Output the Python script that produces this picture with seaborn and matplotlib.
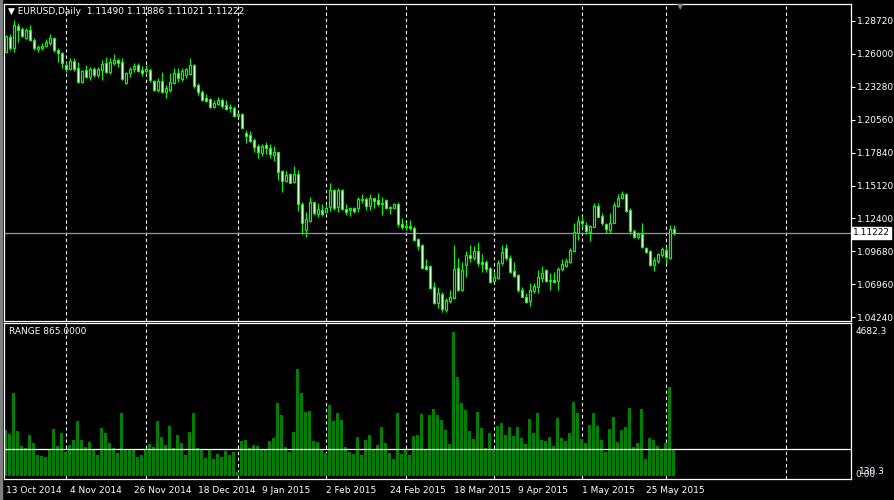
import pandas as pd
import matplotlib
matplotlib.use("Agg")
import matplotlib.pyplot as plt
import matplotlib.transforms as mtransforms
from matplotlib.patches import Rectangle
import seaborn as sns

# EURUSD daily, 13 Oct 2014 .. 3 Jun 2015 (one bar per weekday)
opens = [1.2616, 1.2740, 1.2649, 1.2828, 1.2803, 1.2732, 1.2795, 1.2713, 1.2638, 1.2644,
         1.2666, 1.2685, 1.2727, 1.2630, 1.2603, 1.2507, 1.2474, 1.2540, 1.2479, 1.2369,
         1.2465, 1.2410, 1.2474, 1.2424, 1.2465, 1.2520, 1.2446, 1.2520, 1.2548, 1.2529,
         1.2360, 1.2438, 1.2471, 1.2507, 1.2465, 1.2457, 1.2465, 1.2377, 1.2300, 1.2377,
         1.2281, 1.2300, 1.2355, 1.2438, 1.2391, 1.2424, 1.2430, 1.2507, 1.2341, 1.2281,
         1.2232, 1.2225, 1.2162, 1.2182, 1.2218, 1.2176, 1.2149, 1.2154, 1.2088, 1.2102,
         1.1948, 1.1928, 1.1888, 1.1840, 1.1778, 1.1846, 1.1824, 1.1764, 1.1786, 1.1632,
         1.1549, 1.1604, 1.1544, 1.1607, 1.1359, 1.1145, 1.1220, 1.1374, 1.1277, 1.1310,
         1.1296, 1.1332, 1.1475, 1.1337, 1.1475, 1.1318, 1.1310, 1.1329, 1.1329, 1.1401,
         1.1401, 1.1346, 1.1406, 1.1393, 1.1357, 1.1393, 1.1329, 1.1329, 1.1357, 1.1192,
         1.1172, 1.1180, 1.1164, 1.1068, 1.1021, 1.0848, 1.0848, 1.0672, 1.0540, 1.0614,
         1.0485, 1.0559, 1.0586, 1.0829, 1.0650, 1.0856, 1.0939, 1.0911, 1.0972, 1.0878,
         1.0883, 1.0829, 1.0724, 1.0751, 1.0875, 1.0994, 1.0911, 1.0809, 1.0773, 1.0650,
         1.0590, 1.0561, 1.0644, 1.0672, 1.0746, 1.0815, 1.0727, 1.0732, 1.0727, 1.0820,
         1.0848, 1.0884, 1.0974, 1.1118, 1.1222, 1.1186, 1.1131, 1.1172, 1.1343, 1.1260,
         1.1194, 1.1145, 1.1205, 1.1343, 1.1406, 1.1442, 1.1310, 1.1139, 1.1085, 1.1112,
         1.0994, 1.0974, 1.0856, 1.0892, 1.0939, 1.0980, 1.0911, 1.11490]
highs = [1.2754, 1.2760, 1.2878, 1.2851, 1.2822, 1.2809, 1.2837, 1.2727, 1.2671, 1.2685,
         1.2721, 1.2760, 1.2740, 1.2644, 1.2611, 1.2534, 1.2567, 1.2562, 1.2529, 1.2465,
         1.2507, 1.2493, 1.2493, 1.2493, 1.2548, 1.2575, 1.2562, 1.2595, 1.2567, 1.2562,
         1.2451, 1.2493, 1.2520, 1.2520, 1.2501, 1.2507, 1.2479, 1.2383, 1.2397, 1.2446,
         1.2341, 1.2438, 1.2484, 1.2484, 1.2479, 1.2479, 1.2562, 1.2512, 1.2355, 1.2300,
         1.2265, 1.2237, 1.2218, 1.2245, 1.2232, 1.2218, 1.2182, 1.2171, 1.2108, 1.2108,
         1.1970, 1.1962, 1.1902, 1.1852, 1.1852, 1.1869, 1.1852, 1.1840, 1.1791, 1.1640,
         1.1632, 1.1613, 1.1676, 1.1640, 1.1379, 1.1291, 1.1420, 1.1379, 1.1365, 1.1357,
         1.1351, 1.1530, 1.1483, 1.1489, 1.1483, 1.1357, 1.1337, 1.1337, 1.1420, 1.1440,
         1.1420, 1.1440, 1.1412, 1.1448, 1.1420, 1.1401, 1.1346, 1.1365, 1.1374, 1.1241,
         1.1213, 1.1228, 1.1180, 1.1076, 1.1027, 1.0905, 1.0856, 1.0718, 1.0677, 1.0631,
         1.0586, 1.0650, 1.1021, 1.0916, 1.0878, 1.0972, 1.1021, 1.1015, 1.1048, 1.0944,
         1.0898, 1.0842, 1.0801, 1.0898, 1.1021, 1.1029, 1.0939, 1.0883, 1.0782, 1.0677,
         1.0622, 1.0705, 1.0705, 1.0815, 1.0848, 1.0820, 1.0787, 1.0801, 1.0837, 1.0903,
         1.0911, 1.0994, 1.1200, 1.1260, 1.1260, 1.1213, 1.1186, 1.1370, 1.1365, 1.1282,
         1.1205, 1.1282, 1.1379, 1.1442, 1.1469, 1.1448, 1.1324, 1.1151, 1.1131, 1.1205,
         1.1007, 1.0980, 1.0920, 1.0958, 1.1007, 1.1007, 1.1186, 1.11886]
lows = [1.2611, 1.2630, 1.2616, 1.2699, 1.2740, 1.2721, 1.2704, 1.2630, 1.2611, 1.2630,
        1.2657, 1.2671, 1.2616, 1.2534, 1.2479, 1.2451, 1.2465, 1.2457, 1.2355, 1.2355,
        1.2397, 1.2383, 1.2410, 1.2410, 1.2383, 1.2438, 1.2430, 1.2507, 1.2493, 1.2383,
        1.2350, 1.2410, 1.2451, 1.2446, 1.2418, 1.2438, 1.2369, 1.2292, 1.2281, 1.2273,
        1.2237, 1.2286, 1.2347, 1.2364, 1.2374, 1.2402, 1.2424, 1.2314, 1.2259, 1.2209,
        1.2203, 1.2149, 1.2154, 1.2176, 1.2154, 1.2135, 1.2116, 1.2080, 1.2080, 1.1984,
        1.1860, 1.1869, 1.1791, 1.1742, 1.1758, 1.1770, 1.1737, 1.1714, 1.1557, 1.1456,
        1.1539, 1.1530, 1.1530, 1.1302, 1.1109, 1.1090, 1.1213, 1.1269, 1.1255, 1.1263,
        1.1291, 1.1302, 1.1310, 1.1296, 1.1310, 1.1269, 1.1263, 1.1283, 1.1296, 1.1365,
        1.1310, 1.1310, 1.1329, 1.1346, 1.1269, 1.1318, 1.1274, 1.1324, 1.1172, 1.1153,
        1.1145, 1.1145, 1.1055, 1.0980, 1.0829, 1.0815, 1.0659, 1.0532, 1.0504, 1.0466,
        1.0471, 1.0540, 1.0576, 1.0641, 1.0641, 1.0759, 1.0877, 1.0898, 1.0850, 1.0796,
        1.0796, 1.0705, 1.0718, 1.0744, 1.0856, 1.0898, 1.0793, 1.0759, 1.0636, 1.0590,
        1.0545, 1.0518, 1.0622, 1.0622, 1.0718, 1.0718, 1.0650, 1.0705, 1.0650, 1.0809,
        1.0837, 1.0870, 1.0966, 1.1063, 1.1172, 1.1112, 1.1057, 1.1167, 1.1250, 1.1186,
        1.1118, 1.1118, 1.1200, 1.1332, 1.1398, 1.1296, 1.1112, 1.1076, 1.1068, 1.0994,
        1.0958, 1.0848, 1.0809, 1.0870, 1.0920, 1.0875, 1.0903, 1.11021]
closes = [1.2748, 1.2644, 1.2837, 1.2795, 1.2748, 1.2795, 1.2713, 1.2644, 1.2652, 1.2666,
          1.2694, 1.2727, 1.2630, 1.2603, 1.2520, 1.2471, 1.2540, 1.2474, 1.2369, 1.2457,
          1.2410, 1.2474, 1.2424, 1.2474, 1.2512, 1.2446, 1.2529, 1.2548, 1.2525, 1.2391,
          1.2438, 1.2474, 1.2501, 1.2457, 1.2438, 1.2471, 1.2383, 1.2300, 1.2377, 1.2281,
          1.2319, 1.2364, 1.2438, 1.2402, 1.2457, 1.2474, 1.2507, 1.2336, 1.2281, 1.2218,
          1.2209, 1.2162, 1.2190, 1.2218, 1.2171, 1.2143, 1.2162, 1.2088, 1.2102, 1.1989,
          1.1923, 1.1879, 1.1832, 1.1786, 1.1840, 1.1824, 1.1770, 1.1791, 1.1626, 1.1549,
          1.1599, 1.1535, 1.1604, 1.1357, 1.1200, 1.1236, 1.1379, 1.1283, 1.1318, 1.1274,
          1.1329, 1.1475, 1.1329, 1.1475, 1.1318, 1.1291, 1.1324, 1.1302, 1.1401, 1.1390,
          1.1346, 1.1406, 1.1384, 1.1357, 1.1370, 1.1324, 1.1337, 1.1357, 1.1192, 1.1172,
          1.1180, 1.1164, 1.1063, 1.1015, 1.0834, 1.0823, 1.0664, 1.0540, 1.0622, 1.0493,
          1.0568, 1.0595, 1.0823, 1.0650, 1.0815, 1.0939, 1.0911, 1.0972, 1.0870, 1.0867,
          1.0823, 1.0718, 1.0759, 1.0875, 1.0966, 1.0911, 1.0801, 1.0765, 1.0650, 1.0595,
          1.0553, 1.0650, 1.0683, 1.0759, 1.0793, 1.0727, 1.0732, 1.0718, 1.0820, 1.0864,
          1.0892, 1.0980, 1.1131, 1.1222, 1.1200, 1.1139, 1.1178, 1.1343, 1.1255, 1.1200,
          1.1151, 1.1205, 1.1351, 1.1406, 1.1442, 1.1304, 1.1139, 1.1085, 1.1112, 1.1007,
          1.0966, 1.0856, 1.0898, 1.0947, 1.0986, 1.0920, 1.1149, 1.11222]
# RANGE indicator (high - low in points)
ranges = [1495, 1365, 2708, 1462, 975, 899, 1322, 1083, 683, 650,
          628, 845, 1538, 975, 1398, 791, 1008, 1170, 1788, 1170,
          932, 1105, 845, 683, 1571, 1387, 1083, 910, 758, 2048,
          888, 888, 888, 628, 683, 888, 1040, 932, 1788, 1278,
          1018, 1625, 910, 1333, 1073, 683, 1430, 2048, 899, 888,
          596, 845, 563, 715, 607, 812, 683, 791, 130.3, 1138,
          1170, 910, 1008, 975, 888, 888, 1138, 1246, 2373, 1971,
          943, 780, 1430, 3466, 2698, 2080, 2113, 1138, 1105, 878,
          748, 2308, 1788, 2048, 1820, 943, 780, 715, 1268, 683,
          1170, 1333, 878, 1008, 1593, 1073, 748, 553, 2048, 715,
          845, 683, 1300, 1333, 2015, 878, 1983, 2178, 1983, 1820,
          1495, 1040, 4682.3, 3218, 2373, 2145, 1462, 1203, 2080, 1560,
          910, 1398, 878, 1625, 1723, 1333, 1593, 1300, 1593, 1246,
          1040, 1853, 1398, 2048, 1170, 1138, 1268, 975, 1885, 1246,
          1138, 1398, 2405, 2048, 1203, 1073, 1658, 2048, 1625, 1170,
          780, 1528, 1918, 1105, 1495, 1593, 2210, 943, 1073, 2178,
          553, 1246, 1170, 975, 845, 1073, 2893, 865]

date_ticks = list(range(0, 161, 16))
date_labels = ["13 Oct 2014", "4 Nov 2014", "26 Nov 2014", "18 Dec 2014", "9 Jan 2015",
               "2 Feb 2015", "24 Feb 2015", "18 Mar 2015", "9 Apr 2015", "1 May 2015",
               "25 May 2015"]
month_bars = [15, 35, 58, 80, 100, 122, 144, 165, 195]
price_ticks = [1.04240, 1.06960, 1.09680, 1.12400, 1.15120, 1.17840, 1.20560,
               1.23280, 1.26000, 1.28720]
bid = 1.11222

df = pd.DataFrame({"bar": range(len(closes)), "open": opens, "high": highs,
                   "low": lows, "close": closes, "range": ranges})
df["bull"] = df["close"] >= df["open"]

sns.set_style("dark", {"axes.facecolor": "black", "figure.facecolor": "black",
                       "axes.edgecolor": "white", "text.color": "white",
                       "xtick.color": "white", "ytick.color": "white"})
plt.rcParams["font.family"] = ["DejaVu Sans"]

fig = plt.figure(figsize=(8.95, 5), dpi=100, facecolor="black")
ax_p = fig.add_axes([4/895, 1 - 321/500, 847/895, 317/500])
ax_v = fig.add_axes([4/895, 1 - 479/500, 847/895, 156/500])
fig.patches.append(Rectangle((0, 0), 2/895, 1, transform=fig.transFigure,
                             color="#808080", zorder=0))

lime = "#00ff00"
# candles: hollow (black) when up, white when down
ax_p.vlines(df["bar"], df["low"], df["high"], color=lime, lw=0.8, zorder=3)
body_lo = df[["open", "close"]].min(axis=1)
body_h = (df["close"] - df["open"]).abs()
ax_p.bar(df["bar"], body_h, bottom=body_lo, width=0.52,
         color=["black" if b else "white" for b in df["bull"]],
         edgecolor=lime, linewidth=0.85, zorder=4)
ax_p.axhline(bid, color="#9098a6", lw=0.9, zorder=2)

# range histogram
sns.barplot(data=df, x="bar", y="range", native_scale=True, color="#008000",
            saturation=1, width=0.75, linewidth=0, errorbar=None, ax=ax_v, zorder=2)
ax_v.axhline(865, color="white", lw=0.9, zorder=5)

for ax in (ax_p, ax_v):
    for m in month_bars:
        ax.axvline(m, color="white", lw=0.8, ls=(0, (3, 2.5)), zorder=1)
    ax.set_xlim(-0.5, 211.25)
    ax.set_xlabel("")
    ax.set_ylabel("")
    ax.grid(False)
    for s in ax.spines.values():
        s.set_color("white")
        s.set_linewidth(0.9)

ax_p.set_ylim(1.03939, 1.30098)
ax_p.set_xticks([])
ax_p.yaxis.tick_right()
ax_p.set_yticks(price_ticks)
ax_p.set_yticklabels([f"{t:.5f}" for t in price_ticks])
ax_p.tick_params(axis="y", direction="out", length=3, width=0.8, pad=1,
                 labelsize=6.5, colors="white")
trans = mtransforms.blended_transform_factory(ax_p.transAxes, ax_p.transData)
ax_p.text(1.0025, bid, f"{bid:.5f}", transform=trans, color="black", fontsize=6.5,
          va="center", ha="left",
          bbox=dict(boxstyle="square,pad=0.15", facecolor="white", edgecolor="white"))

ax_v.set_ylim(-97.5, 4972.5)
ax_v.set_yticks([])
ax_v.set_xticks(date_ticks)
ax_v.set_xticklabels(date_labels, ha="left")
ax_v.tick_params(axis="x", direction="out", length=3, width=0.8, pad=2,
                 labelsize=6.5, colors="white")
tv = mtransforms.blended_transform_factory(ax_v.transAxes, ax_v.transData)
ax_v.text(1.005, 4682.3, "4682.3", transform=tv, color="white", fontsize=6.5, va="center")
# MT4 prints the min and zero labels on top of each other
ax_v.text(1.005, 60, "0.00", transform=tv, color="#dfe8ff", fontsize=6.5, va="center")
ax_v.text(1.009, 130.3, "130.3", transform=tv, color="white", fontsize=6.5, va="center")

fig.text(8/895, 1 - 12/500, "▼ EURUSD,Daily  1.11490 1.11886 1.11021 1.11222",
         color="white", fontsize=6.5, va="center")
fig.text(9/895, 1 - 332/500, "RANGE 865.0000", color="white", fontsize=6.5, va="center")
fig.text(680/895, 1 - 7/500, "▼", color="#7c8494", fontsize=6, va="center", ha="center")

fig.savefig("out.png", dpi=100, facecolor="black")
